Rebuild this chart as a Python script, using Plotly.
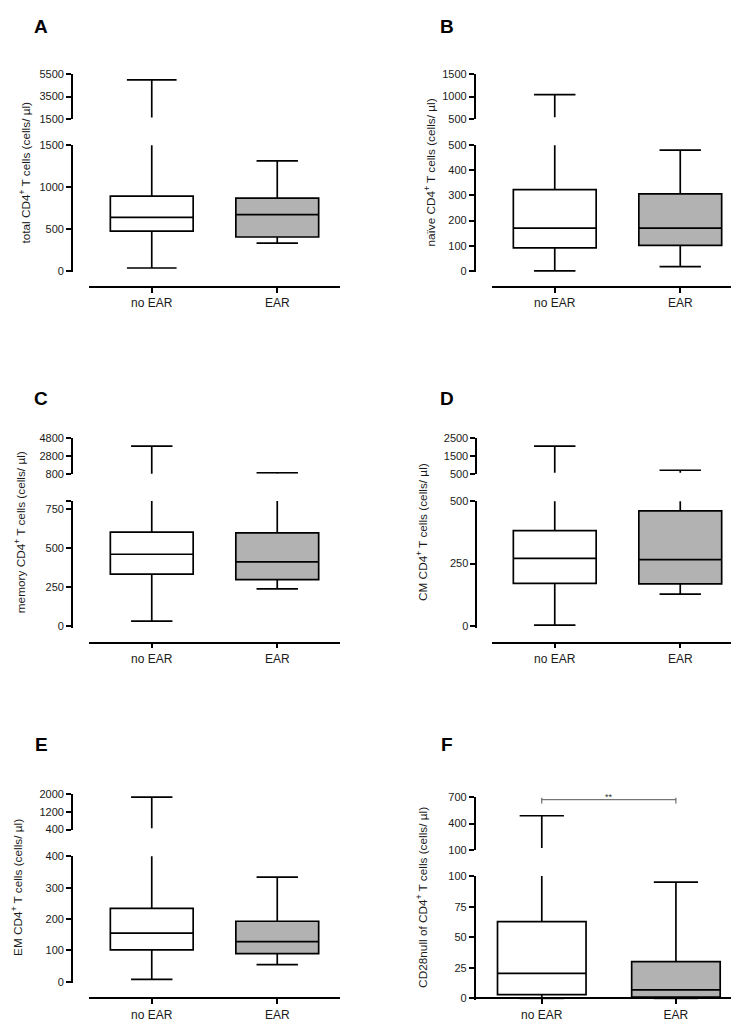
import plotly.graph_objects as go

# ---------------- data ----------------
categories = ["no EAR", "EAR"]
panel_letters = ["A", "B", "C", "D", "E", "F"]
y_titles = [
    "total CD4<sup>+</sup> T cells (cells/ µl)",
    "naïve CD4<sup>+</sup> T cells (cells/ µl)",
    "memory CD4<sup>+</sup> T cells (cells/ µl)",
    "CM CD4<sup>+</sup> T cells (cells/ µl)",
    "EM CD4<sup>+</sup> T cells (cells/ µl)",
    "CD28null of CD4<sup>+</sup> T cells (cells/ µl)",
]

# five-number summaries: [min, q1, median, q3, max]
a_no_ear = [35, 475, 640, 892, 5000]
a_ear = [333, 405, 672, 868, 1312]
b_no_ear = [0, 92, 170, 323, 1045]
b_ear = [17, 102, 170, 306, 480]
c_no_ear = [34, 334, 460, 601, 3900]
c_ear = [239, 298, 412, 596, 950]
d_no_ear = [4, 171, 271, 382, 2050]
d_ear = [128, 169, 266, 461, 720]
e_no_ear = [8, 102, 155, 234, 1860]
e_ear = [55, 90, 128, 193, 334]
f_no_ear = [0, 3, 20.5, 62.7, 490]
f_ear = [0, 1, 7, 30, 95]
summaries = [
    (a_no_ear, a_ear), (b_no_ear, b_ear), (c_no_ear, c_ear),
    (d_no_ear, d_ear), (e_no_ear, e_ear), (f_no_ear, f_ear),
]

# broken-axis tick values (lower segment, upper segment)
a_lower_ticks = [0, 500, 1000, 1500]
a_upper_ticks = [1500, 3500, 5500]
b_lower_ticks = [0, 100, 200, 300, 400, 500]
b_upper_ticks = [500, 1000, 1500]
c_lower_ticks = [0, 250, 500, 750, 800]
c_lower_labels = ["0", "250", "500", "750", " "]
c_upper_ticks = [800, 2800, 4800]
d_lower_ticks = [0, 250, 500]
d_upper_ticks = [500, 1500, 2500]
e_lower_ticks = [0, 100, 200, 300, 400]
e_upper_ticks = [400, 1200, 2000]
f_lower_ticks = [0, 25, 50, 75, 100]
f_upper_ticks = [100, 400, 700]
lower_ticks = [a_lower_ticks, b_lower_ticks, c_lower_ticks, d_lower_ticks, e_lower_ticks, f_lower_ticks]
lower_labels = [None, None, c_lower_labels, None, None, None]
upper_ticks = [a_upper_ticks, b_upper_ticks, c_upper_ticks, d_upper_ticks, e_upper_ticks, f_upper_ticks]

sig_label = "**"
sig_y = 674

# ---------------- layout geometry (pixels) ----------------
W, H = 739, 1025
FONT = "Arial, Liberation Sans, sans-serif"
fills = ["white", "#b2b2b2"]


def fx(p):
    return p / W


def fy(p):
    return 1 - p / H


# per panel: y-axis x, upper seg (top_px, bot_px), lower seg (top_px, bot_px),
# x axis y, x axis left/right, title x, letter (x, y), whisker cap widths,
# clip offset (px) of the upper segment above the break
geom = [
    dict(yx=64, up=(61, 106), low=(132.7, 260), xy=276, xl=81, xr=332, tx=18, let=(33, 13), ww=(0.6, 0.5), co=1.4),
    dict(yx=466.7, up=(61, 106), low=(132.7, 260), xy=276, xl=484, xr=735, tx=423, let=(439, 13), ww=(0.5, 0.5), co=1.6),
    dict(yx=64, up=(429, 465.7), low=(492.7, 619.7), xy=636, xl=81, xr=332, tx=12, let=(33, 389), ww=(0.5, 0.5), co=0.5),
    dict(yx=468.3, up=(429, 465.7), low=(493, 619.3), xy=636, xl=484, xr=735, tx=414, let=(439, 389), ww=(0.5, 0.5), co=1.6),
    dict(yx=64, up=(789.3, 825.3), low=(852.3, 979.3), xy=996, xl=81, xr=332, tx=10, let=(33, 739), ww=(0.5, 0.5), co=1.4),
    dict(yx=466.7, up=(792.7, 845.7), low=(872.3, 996), xy=996, xl=466.7, xr=735, tx=415, let=(439, 739), ww=(0.5, 0.5), co=1.8),
]

fig = go.Figure()
layout = dict(
    width=W, height=H, margin=dict(l=0, r=0, t=0, b=0),
    paper_bgcolor="white", plot_bgcolor="rgba(0,0,0,0)",
    font=dict(family=FONT, color="#1a1a1a"), showlegend=False,
)
annotations = []

line_w = 1.7
for i in range(6):
    g = geom[i]
    clip_off = g["co"]
    xn = i + 1
    yln, yun, yon = 2 * i + 1, 2 * i + 2, 13 + i
    xref = "x" if xn == 1 else f"x{xn}"
    ylref = "y" if yln == 1 else f"y{yln}"
    yuref = f"y{yun}"
    yoref = f"y{yon}"
    xkey = "xaxis" if xn == 1 else f"xaxis{xn}"
    ylkey = "yaxis" if yln == 1 else f"yaxis{yln}"
    yukey = f"yaxis{yun}"
    yokey = f"yaxis{yon}"

    lt, up_t = lower_ticks[i], upper_ticks[i]
    ltop, lbot = g["low"]
    s = (lbot - ltop) / (lt[-1] - lt[0])
    pad = 1.5
    low_range = [lt[0] - pad / s, lt[-1]]
    low_domain = [fy(lbot + pad), fy(ltop)]
    utop, ubot = g["up"]
    su = (ubot - utop) / (up_t[-1] - up_t[0])
    up_range = [up_t[0], up_t[-1]]
    up_domain = [fy(ubot), fy(utop)]
    ov_range = [up_t[0] + clip_off / su, up_t[-1]]
    ov_domain = [fy(ubot - clip_off), fy(utop)]

    common_y = dict(
        anchor="free", position=fx(g["yx"]), showline=True, linecolor="black",
        linewidth=line_w, ticks="outside", ticklen=5, tickwidth=line_w, tickcolor="black",
        showgrid=False, zeroline=False, tickfont=dict(size=11, family=FONT, color="#1a1a1a"),
        fixedrange=True,
    )
    layout[ylkey] = dict(common_y, domain=low_domain, range=low_range, tickvals=lt,
                         ticktext=lower_labels[i] if lower_labels[i] else [str(v) for v in lt])
    layout[yukey] = dict(common_y, domain=up_domain, range=up_range, tickvals=up_t,
                         ticktext=[str(v) for v in up_t])
    layout[yokey] = dict(anchor="free", position=fx(g["yx"]), domain=ov_domain, range=ov_range,
                         visible=False, showgrid=False, zeroline=False, fixedrange=True)
    layout[xkey] = dict(
        domain=[fx(g["xl"]), fx(g["xr"])], anchor="free", position=fy(g["xy"]),
        type="category", categoryorder="array", categoryarray=categories,
        range=[-0.5, 1.5], showline=True, linecolor="black", linewidth=line_w,
        ticks="outside", ticklen=5, tickwidth=line_w, tickcolor="black",
        showgrid=False, zeroline=False, ticklabelstandoff=0,
        tickfont=dict(size=12, family=FONT, color="#1a1a1a"), fixedrange=True,
    )

    # empty trace so the visible upper axis gets its subplot
    fig.add_trace(go.Scatter(x=[], y=[], xaxis=xref, yaxis=yuref, showlegend=False, hoverinfo="skip"))

    for j, cat in enumerate(categories):
        mn, q1, med, q3, mx = summaries[i][j]
        for yr in (ylref, yoref):
            fig.add_trace(go.Box(
                x=[cat], lowerfence=[mn], q1=[q1], median=[med], q3=[q3], upperfence=[mx],
                orientation="v", xaxis=xref, yaxis=yr, fillcolor=fills[j],
                line=dict(color="black", width=line_w), width=0.66, whiskerwidth=g["ww"][j],
                boxpoints=False, showlegend=False, hoverinfo="skip",
            ))

    annotations.append(dict(
        text=y_titles[i], textangle=-90, xref="paper", yref="paper",
        x=fx(g["tx"]), y=fy((utop + lbot) / 2), xanchor="center", yanchor="middle",
        showarrow=False, font=dict(size=11.8, family=FONT, color="#1a1a1a"),
    ))
    annotations.append(dict(
        text=f"<b>{panel_letters[i]}</b>", xref="paper", yref="paper",
        x=fx(g["let"][0]), y=fy(g["let"][1]), xanchor="center", yanchor="middle",
        showarrow=False, font=dict(size=19, family=FONT, color="black"),
    ))

# significance bracket in panel F (upper segment)
fig.add_trace(go.Scatter(
    x=[categories[0], categories[0], None, categories[0], categories[1], None, categories[1], categories[1]],
    y=[699, sig_y - 45, None, sig_y, sig_y, None, 699, sig_y - 45],
    mode="lines", line=dict(color="#555555", width=1), xaxis="x6", yaxis="y12",
    showlegend=False, hoverinfo="skip", connectgaps=False,
))
annotations.append(dict(
    text=sig_label, xref="x6", yref="paper", x=0.5, y=fy(792), xanchor="center",
    yanchor="middle", showarrow=False, font=dict(size=9, family=FONT, color="#333333"),
))

layout["annotations"] = annotations
fig.update_layout(**layout)
fig.write_html("out.html")
